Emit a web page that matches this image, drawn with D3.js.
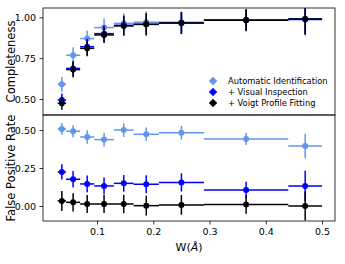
<!DOCTYPE html>
<html>
<head>
<meta charset="utf-8">
<script src="https://cdnjs.cloudflare.com/ajax/libs/d3/7.8.5/d3.min.js"></script>
<style>
  body { margin: 0; background: #fff; }
  text { font-family: "DejaVu Sans", sans-serif; }
</style>
</head>
<body>
<script>
// bins in W (Angstrom)
var binEdges = [0.03, 0.045, 0.07, 0.095, 0.13, 0.165, 0.21, 0.29, 0.44, 0.5];
var binCenters = [0.0375, 0.0575, 0.0825, 0.1125, 0.1475, 0.1875, 0.25, 0.365, 0.47];

// completeness
var compAuto = [0.59, 0.768, 0.87, 0.937, 0.963, 0.97, 0.97, 0.985, 0.985];
var compAutoErr = [0.045, 0.048, 0.05, 0.055, 0.06, 0.065, 0.065, 0.068, 0.095];
var compVisual = [0.494, 0.687, 0.82, 0.90, 0.951, 0.957, 0.965, 0.982, 0.99];
var compVisualErr = [0.04, 0.045, 0.048, 0.05, 0.06, 0.065, 0.065, 0.065, 0.09];
var compVoigt = [0.474, 0.68, 0.81, 0.892, 0.947, 0.957, 0.965, 0.982, 0.99];
var compVoigtErr = [0.04, 0.048, 0.048, 0.05, 0.06, 0.068, 0.068, 0.068, 0.097];

// false positive rate
var fpAuto = [0.507, 0.492, 0.454, 0.437, 0.50, 0.472, 0.482, 0.441, 0.395];
var fpAutoErr = [0.04, 0.04, 0.045, 0.045, 0.045, 0.045, 0.045, 0.04, 0.08];
var fpVisual = [0.224, 0.176, 0.145, 0.132, 0.149, 0.143, 0.155, 0.105, 0.132];
var fpVisualErr = [0.05, 0.055, 0.055, 0.055, 0.055, 0.06, 0.06, 0.055, 0.1];
var fpVoigt = [0.033, 0.024, 0.013, 0.013, 0.013, 0.002, 0.007, 0.009, 0.0];
var fpVoigtErr = [0.066, 0.06, 0.06, 0.06, 0.06, 0.065, 0.065, 0.06, 0.095];

var seriesNames = ["Automatic Identification", "+ Visual Inspection", "+ Voigt Profile Fitting"];
var seriesColors = ["#6495ed", "#0000ff", "#000000"];

var xTicks = [0.1, 0.2, 0.3, 0.4, 0.5];
var compTicks = [0.50, 0.75, 1.00];
var fpTicks = [0.00, 0.25, 0.50];

var width = 345;
var height = 264;
var mLeft = 43, mRight = 335, mTop = 8, mMid = 115, mBottom = 221;

var svg = d3.select("body")
    .append("svg")
    .attr("width", width)
    .attr("height", height);

var x = d3.scaleLinear()
    .domain([0.004, 0.523])
    .range([mLeft, mRight]);

var yComp = d3.scaleLinear()
    .domain([0.402, 1.057])
    .range([mMid, mTop]);

var yFp = d3.scaleLinear()
    .domain([-0.099, 0.599])
    .range([mBottom, mMid]);

function rows(vals, errs) {
    return vals.map(function(v, i) {
        return { x: binCenters[i], x0: binEdges[i], x1: binEdges[i + 1], y: v, e: errs[i] };
    });
}

// draw one panel
function panel(id, y, series, ticks, label) {
    var y0 = y.range()[1], y1 = y.range()[0];

    svg.append("clipPath")
        .attr("id", id)
      .append("rect")
        .attr("x", mLeft)
        .attr("y", y0)
        .attr("width", mRight - mLeft)
        .attr("height", y1 - y0);

    var g = svg.append("g").attr("clip-path", "url(#" + id + ")");

    series.forEach(function(s, k) {
        var c = seriesColors[k];
        var d = rows(s[0], s[1]);
        var sg = g.append("g");

        sg.selectAll(".hbar").data(d).enter().append("line")
            .attr("x1", function(p) { return x(p.x0); })
            .attr("x2", function(p) { return x(p.x1); })
            .attr("y1", function(p) { return y(p.y); })
            .attr("y2", function(p) { return y(p.y); })
            .attr("stroke", c)
            .attr("stroke-width", 1.5);

        sg.selectAll(".vbar").data(d).enter().append("line")
            .attr("x1", function(p) { return x(p.x); })
            .attr("x2", function(p) { return x(p.x); })
            .attr("y1", function(p) { return y(p.y - p.e); })
            .attr("y2", function(p) { return y(p.y + p.e); })
            .attr("stroke", c)
            .attr("stroke-width", 1.5);

        sg.selectAll("circle").data(d).enter().append("circle")
            .attr("cx", function(p) { return x(p.x); })
            .attr("cy", function(p) { return y(p.y); })
            .attr("r", 3)
            .attr("fill", c);
    });

    var ax = svg.append("g")
        .attr("transform", "translate(" + mLeft + ",0)")
        .call(d3.axisLeft(y).tickValues(ticks).tickFormat(d3.format(".2f")).tickSize(3.5).tickPadding(3.5));
    ax.select(".domain").remove();
    ax.selectAll("line").attr("stroke-width", 0.8);
    ax.selectAll("text").attr("font-size", 9.5).attr("fill", "#000");

    svg.append("text")
        .attr("transform", "translate(11," + ((y0 + y1) / 2) + ") rotate(-90)")
        .attr("text-anchor", "middle")
        .attr("dominant-baseline", "middle")
        .attr("font-size", 11.5)
        .text(label);

    svg.append("rect")
        .attr("x", mLeft)
        .attr("y", y0)
        .attr("width", mRight - mLeft)
        .attr("height", y1 - y0)
        .attr("fill", "none")
        .attr("stroke", "#000")
        .attr("stroke-width", 0.8);
}

panel("clipTop", yComp,
    [[compAuto, compAutoErr], [compVisual, compVisualErr], [compVoigt, compVoigtErr]],
    compTicks, "Completeness");

panel("clipBot", yFp,
    [[fpAuto, fpAutoErr], [fpVisual, fpVisualErr], [fpVoigt, fpVoigtErr]],
    fpTicks, "False Positive Rate");

// x axis
var xa = svg.append("g")
    .attr("transform", "translate(0," + mBottom + ")")
    .call(d3.axisBottom(x).tickValues(xTicks).tickFormat(d3.format(".1f")).tickSize(3.5).tickPadding(3.5));
xa.select(".domain").remove();
xa.selectAll("line").attr("stroke-width", 0.8);
xa.selectAll("text").attr("font-size", 9.5).attr("fill", "#000");

var xl = svg.append("text")
    .attr("x", (mLeft + mRight) / 2)
    .attr("y", 251)
    .attr("text-anchor", "middle")
    .attr("font-size", 11);
xl.append("tspan").text("W(");
xl.append("tspan").attr("font-style", "italic").text("\u00c5");
xl.append("tspan").text(")");

// legend
var legend = svg.append("g");
seriesNames.forEach(function(name, k) {
    var ly = 81 + k * 11;
    var lx = 213;
    var c = seriesColors[k];
    legend.append("line")
        .attr("x1", lx - 4).attr("x2", lx + 4)
        .attr("y1", ly).attr("y2", ly)
        .attr("stroke", c).attr("stroke-width", 1.5);
    legend.append("line")
        .attr("x1", lx).attr("x2", lx)
        .attr("y1", ly - 4).attr("y2", ly + 4)
        .attr("stroke", c).attr("stroke-width", 1.5);
    legend.append("circle")
        .attr("cx", lx).attr("cy", ly).attr("r", 3).attr("fill", c);
    legend.append("text")
        .attr("x", 228)
        .attr("y", ly)
        .attr("dominant-baseline", "middle")
        .attr("font-size", 8.3)
        .text(name);
});
</script>
</body>
</html>
